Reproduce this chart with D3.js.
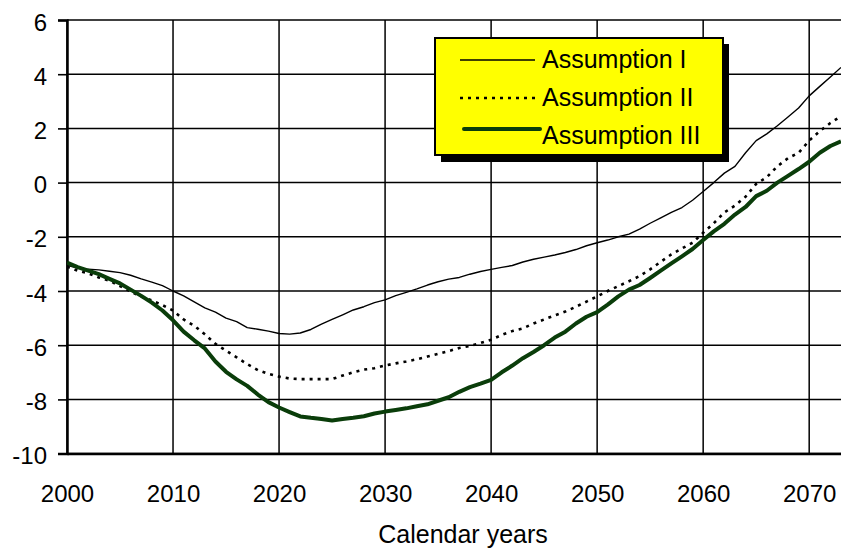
<!DOCTYPE html>
<html><head><meta charset="utf-8">
<script src="https://cdn.jsdelivr.net/npm/d3@7"></script>
<style>body{margin:0;background:#fff}svg{display:block}text{font-family:"Liberation Sans",Arial,sans-serif;fill:#000}</style>
</head><body><svg id="c" width="841" height="548"></svg>
<script>
const startYear = 2000;
const seriesNames = ["Assumption I", "Assumption II", "Assumption III"];
const assumptionI = [-3.05,-3.15,-3.2,-3.22,-3.27,-3.32,-3.42,-3.55,-3.67,-3.8,-4.0,-4.18,-4.4,-4.62,-4.78,-5.0,-5.13,-5.35,-5.41,-5.48,-5.57,-5.59,-5.55,-5.42,-5.22,-5.05,-4.88,-4.7,-4.58,-4.43,-4.33,-4.17,-4.05,-3.92,-3.78,-3.66,-3.56,-3.5,-3.38,-3.28,-3.2,-3.13,-3.06,-2.93,-2.83,-2.75,-2.67,-2.58,-2.47,-2.33,-2.22,-2.12,-2.0,-1.9,-1.72,-1.5,-1.3,-1.1,-0.92,-0.65,-0.33,0.0,0.35,0.6,1.1,1.55,1.8,2.1,2.42,2.75,3.2,3.55,3.9,4.25];
const assumptionII = [-3.1,-3.25,-3.35,-3.5,-3.62,-3.82,-4.02,-4.2,-4.35,-4.52,-4.72,-5.05,-5.28,-5.6,-5.95,-6.2,-6.45,-6.7,-6.92,-7.06,-7.16,-7.23,-7.25,-7.25,-7.25,-7.25,-7.12,-7.0,-6.9,-6.85,-6.75,-6.67,-6.6,-6.52,-6.42,-6.32,-6.22,-6.1,-6.03,-5.92,-5.8,-5.62,-5.48,-5.38,-5.2,-5.05,-4.9,-4.76,-4.58,-4.39,-4.2,-4.0,-3.82,-3.64,-3.45,-3.2,-2.92,-2.65,-2.43,-2.22,-1.85,-1.5,-1.1,-0.85,-0.52,-0.05,0.2,0.6,0.9,1.1,1.55,1.9,2.2,2.45];
const assumptionIII = [-2.95,-3.12,-3.25,-3.38,-3.55,-3.72,-3.95,-4.18,-4.43,-4.72,-5.08,-5.5,-5.82,-6.12,-6.6,-6.98,-7.26,-7.5,-7.82,-8.1,-8.3,-8.47,-8.63,-8.68,-8.72,-8.78,-8.72,-8.68,-8.62,-8.52,-8.45,-8.39,-8.33,-8.25,-8.18,-8.05,-7.92,-7.72,-7.55,-7.42,-7.28,-7.0,-6.75,-6.48,-6.25,-6.0,-5.72,-5.5,-5.2,-4.95,-4.78,-4.5,-4.2,-3.95,-3.78,-3.52,-3.25,-2.98,-2.72,-2.45,-2.12,-1.8,-1.52,-1.18,-0.9,-0.5,-0.3,0.0,0.25,0.5,0.77,1.1,1.35,1.52];
const xTicks = [2000,2010,2020,2030,2040,2050,2060,2070];
const yTicks = [-10,-8,-6,-4,-2,0,2,4,6];
const xTitle = "Calendar years";

const svg = d3.select("#c");
const L = 67, R = 841, T = 20, B = 453.6;
const x = d3.scaleLinear().domain([2000, 2073]).range([L, R]);
const y = d3.scaleLinear().domain([-10, 6]).range([B, T]);
const FONT = "Liberation Sans, Arial, sans-serif";

// grid
const g = svg.append("g");
g.selectAll(".hg").data(yTicks).join("line")
  .attr("x1", L).attr("x2", R).attr("y1", d => y(d)).attr("y2", d => y(d))
  .attr("stroke", "#000").attr("stroke-width", 1.5);
g.selectAll(".vg").data(xTicks).join("line")
  .attr("x1", d => x(d)).attr("x2", d => x(d)).attr("y1", T).attr("y2", B)
  .attr("stroke", "#000").attr("stroke-width", 1.5);

// axes
const yAxis = d3.axisLeft(y).tickValues(yTicks).tickSize(9).tickFormat(d3.format("d"));
const ya = svg.append("g").attr("transform", `translate(${L},0)`).call(yAxis);
ya.select(".domain").attr("stroke", "#000").attr("stroke-width", 2.5);
ya.selectAll(".tick line").attr("stroke", "#000").attr("stroke-width", 1.6);
ya.selectAll(".tick text").attr("x", -20).attr("dy", "0.42em").style("font-size", "24px").style("font-family", FONT).text(d => d < 0 ? "-" + Math.abs(d) : d);

const xAxis = d3.axisBottom(x).tickValues(xTicks).tickSize(0).tickFormat(d3.format("d"));
const xa = svg.append("g").attr("transform", `translate(0,${B})`).call(xAxis);
xa.select(".domain").attr("stroke", "#000").attr("stroke-width", 2.5);
xa.selectAll(".tick text").attr("y", 48).attr("dy", 0).style("font-size", "24px").style("font-family", FONT);

svg.append("text").attr("x", 463).attr("y", 543).attr("text-anchor", "middle")
  .style("font-size", "25px").text(xTitle);

// clip
svg.append("clipPath").attr("id", "clip").append("rect").attr("x", L).attr("y", T - 2).attr("width", R - L).attr("height", B - T + 2);

const styles = [
  {data: assumptionI, stroke: "#000", width: 1.4, dash: null},
  {data: assumptionII, stroke: "#000", width: 2.6, dash: "3,5"},
  {data: assumptionIII, stroke: "#0a3d0a", width: 4, dash: null}
];
const line = d3.line().x((d, i) => x(startYear + i)).y(d => y(d));
const lg = svg.append("g").attr("clip-path", "url(#clip)");
styles.forEach(s => {
  lg.append("path").datum(s.data).attr("d", line).attr("fill", "none")
    .attr("stroke", s.stroke).attr("stroke-width", s.width)
    .attr("stroke-dasharray", s.dash).attr("stroke-linejoin", "round");
});

// legend
const leg = svg.append("g");
leg.append("rect").attr("x", 441).attr("y", 44).attr("width", 288).attr("height", 118).attr("fill", "#000");
leg.append("rect").attr("x", 435).attr("y", 38).attr("width", 288).attr("height", 117).attr("fill", "#ffff00").attr("stroke", "#000").attr("stroke-width", 2);
const lineRows = [60, 98, 129];
const textRows = [68, 106, 144];
const lineX1 = [460, 460, 464], lineX2 = [535, 535, 540];
styles.forEach((s, i) => {
  leg.append("line").attr("x1", lineX1[i]).attr("x2", lineX2[i]).attr("y1", lineRows[i]).attr("y2", lineRows[i])
    .attr("stroke", s.stroke).attr("stroke-width", s.width).attr("stroke-dasharray", s.dash).attr("stroke-linecap", i === 2 ? "round" : "butt");
  leg.append("text").attr("x", 542).attr("y", textRows[i]).style("font-size", "25px").text(seriesNames[i]);
});
</script></body></html>
